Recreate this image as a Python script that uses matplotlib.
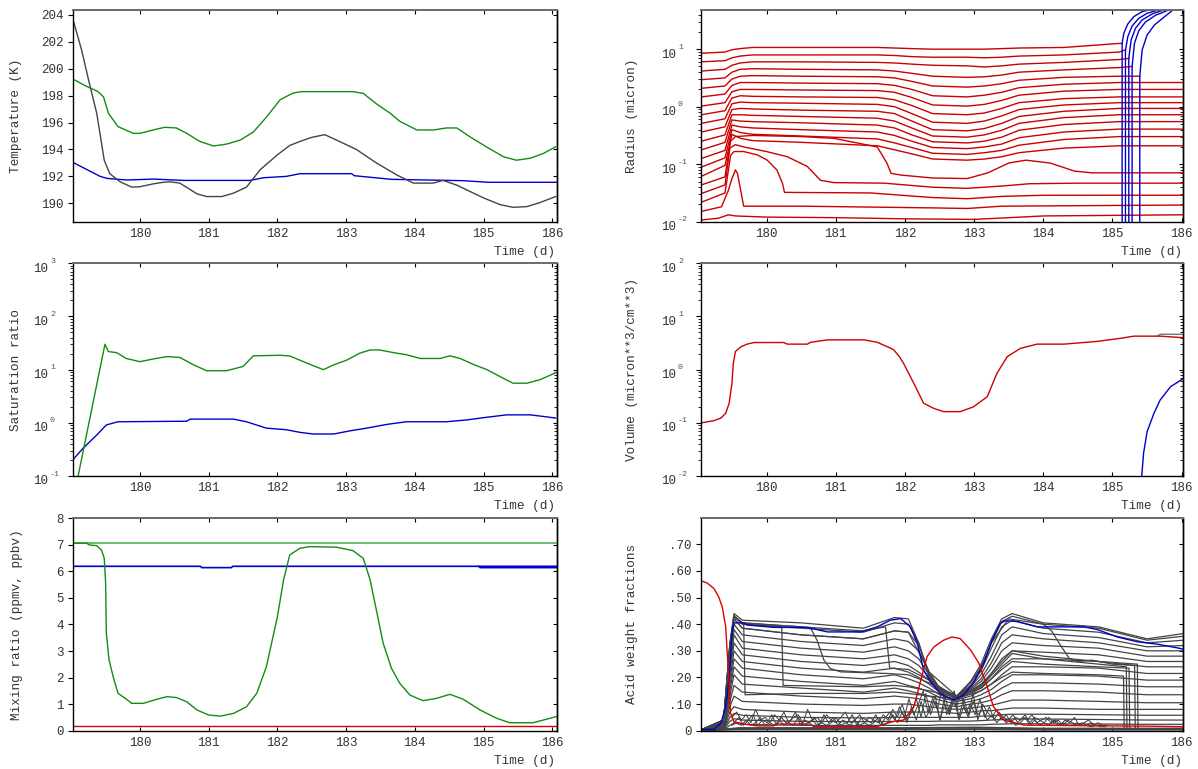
import numpy as np
import matplotlib
matplotlib.use("Agg")
import matplotlib.pyplot as plt
from matplotlib.transforms import ScaledTranslation
from matplotlib.ticker import FixedLocator, NullFormatter

plt.rcParams["font.family"] = ["Liberation Mono", "DejaVu Sans Mono"]
plt.rcParams["font.size"] = 9

TEXT = "#333333"
RED = "#cc0000"
GREEN = "#138c13"
LIGHT_GREEN = "#6cbc6c"
BLUE = "#0000cc"
GRAY = "#444444"
LW = 1.0

DAYS = [180, 181, 182, 183, 184, 185, 186]

# ---------------- Temperature (K) ----------------
temp_gray_t = [179.02, 179.04, 179.15, 179.25, 179.37, 179.48, 179.56, 179.71, 179.88, 180.0,
               180.2, 180.34, 180.43, 180.58, 180.83, 180.97, 181.19, 181.36, 181.55, 181.75,
               182.0, 182.18, 182.33, 182.5, 182.69, 182.86, 183.15, 183.44, 183.74, 183.98,
               184.27, 184.41, 184.61, 185.0, 185.24, 185.43, 185.63, 185.82, 186.05]
temp_gray = [203.6, 203.4, 201.4, 199.2, 196.7, 193.2, 192.2, 191.6, 191.2, 191.23,
             191.45, 191.56, 191.6, 191.5, 190.7, 190.5, 190.5, 190.75, 191.2, 192.5,
             193.6, 194.3, 194.6, 194.9, 195.1, 194.7, 194.0, 193.0, 192.1, 191.5,
             191.5, 191.7, 191.35, 190.4, 189.9, 189.7, 189.75, 190.05, 190.5]
temp_green_t = [179.02, 179.22, 179.39, 179.47, 179.54, 179.68, 179.9, 180.0, 180.19, 180.36,
                180.53, 180.68, 180.87, 181.07, 181.26, 181.46, 181.65, 181.84, 182.04, 182.23,
                182.35, 183.1, 183.25, 183.44, 183.64, 183.78, 184.03, 184.27, 184.46, 184.61,
                184.8, 185.04, 185.29, 185.48, 185.68, 185.87, 186.05]
temp_green = [199.24, 198.7, 198.3, 197.9, 196.7, 195.7, 195.2, 195.2, 195.45, 195.65,
              195.6, 195.2, 194.6, 194.26, 194.4, 194.7, 195.3, 196.4, 197.7, 198.2,
              198.3, 198.3, 198.17, 197.4, 196.7, 196.1, 195.45, 195.45, 195.6, 195.6,
              194.95, 194.2, 193.46, 193.2, 193.35, 193.7, 194.2]
temp_blue_t = [179.02, 179.42, 179.52, 179.81, 180.2, 180.63, 181.6, 181.8, 182.13, 182.33,
               183.08, 183.12, 183.42, 183.66, 184.7, 185.07, 186.06]
temp_blue = [193.05, 192.0, 191.85, 191.73, 191.8, 191.7, 191.7, 191.9, 192.0, 192.2,
             192.2, 192.05, 191.9, 191.78, 191.68, 191.56, 191.56]
TEMP_TICKS = [190, 192, 194, 196, 198, 200, 202, 204]

# ---------------- Saturation ratio (log10) ----------------
sat_green_t = [179.06, 179.49, 179.54, 179.66, 179.8, 180.0, 180.19, 180.39, 180.58, 180.78,
               180.97, 181.26, 181.5, 181.65, 182.04, 182.18, 182.38, 182.53, 182.67, 182.82,
               183.01, 183.2, 183.35, 183.49, 183.69, 183.88, 184.08, 184.37, 184.51, 184.66,
               184.85, 185.05, 185.24, 185.43, 185.63, 185.82, 186.05]
sat_green_log = [-1.25, 1.477, 1.34, 1.32, 1.21, 1.15, 1.2, 1.245, 1.23, 1.09,
                 0.98, 0.98, 1.06, 1.26, 1.27, 1.257, 1.15, 1.07, 1.0, 1.09,
                 1.18, 1.31, 1.37, 1.37, 1.32, 1.28, 1.21, 1.21, 1.26, 1.21,
                 1.1, 1.0, 0.87, 0.745, 0.745, 0.81, 0.94]
sat_blue_t = [179.02, 179.17, 179.37, 179.51, 179.68, 180.68, 180.73, 181.36, 181.55, 181.84,
              182.13, 182.33, 182.52, 182.82, 183.06, 183.3, 183.59, 183.88, 184.46, 184.76,
              185.05, 185.34, 185.68, 185.87, 186.05]
sat_blue_log = [-0.7, -0.48, -0.23, -0.04, 0.02, 0.03, 0.07, 0.07, 0.02, -0.1,
                -0.13, -0.18, -0.21, -0.21, -0.15, -0.10, -0.03, 0.02, 0.02, 0.055,
                0.105, 0.15, 0.15, 0.12, 0.09]

# ---------------- Mixing ratio (ppmv, ppbv) ----------------
mix_green_t = [179.02, 179.22, 179.27, 179.37, 179.44, 179.48, 179.5, 179.51, 179.55, 179.61,
               179.68, 179.8, 179.88, 180.05, 180.24, 180.39, 180.53, 180.68, 180.83, 181.0,
               181.17, 181.36, 181.55, 181.7, 181.84, 182.0, 182.09, 182.18, 182.33, 182.47,
               182.86, 183.1, 183.25, 183.35, 183.44, 183.54, 183.66, 183.78, 183.93, 184.12,
               184.32, 184.51, 184.7, 184.95, 185.19, 185.38, 185.72, 185.87, 186.06]
mix_green = [7.06, 7.06, 6.99, 6.97, 6.8, 6.49, 5.55, 3.67, 2.66, 2.03,
             1.41, 1.19, 1.03, 1.03, 1.18, 1.28, 1.25, 1.09, 0.78, 0.59,
             0.55, 0.65, 0.9, 1.41, 2.41, 4.29, 5.68, 6.62, 6.87, 6.93,
             6.91, 6.78, 6.49, 5.68, 4.55, 3.29, 2.35, 1.79, 1.34, 1.13,
             1.22, 1.37, 1.19, 0.78, 0.47, 0.3, 0.3, 0.4, 0.53]
mix_total_t = [179.02, 186.06]
mix_total = [7.06, 7.06]
mix_blue_t = [179.02, 180.88, 180.9, 181.33, 181.35, 186.06]
mix_blue = [6.19, 6.19, 6.14, 6.14, 6.19, 6.19]
mix_blue2_t = [184.93, 184.95, 186.06]
mix_blue2 = [6.19, 6.14, 6.14]
mix_red_t = [179.02, 186.06]
mix_red = [0.18, 0.18]
MIX_TICKS = [0, 1, 2, 3, 4, 5, 6, 7, 8]

# ---------------- Radius (micron, log10) ----------------
RAD_T = [179.06, 179.40, 179.50, 179.62, 179.80, 180.50, 181.60, 181.85, 182.10,
         182.40, 182.90, 183.15, 183.40, 183.65, 184.30, 185.10, 186.03]
rad_bins = [
    [0.93, 0.95, 0.99, 1.01, 1.03, 1.03, 1.03, 1.02, 1.01, 1.00, 1.00, 1.00, 1.01, 1.02, 1.03, 1.10],
    [0.78, 0.80, 0.85, 0.88, 0.90, 0.90, 0.90, 0.89, 0.87, 0.86, 0.86, 0.85, 0.86, 0.88, 0.90, 0.95],
    [0.62, 0.65, 0.72, 0.76, 0.78, 0.78, 0.77, 0.76, 0.74, 0.72, 0.71, 0.69, 0.71, 0.74, 0.77, 0.82],
    [0.47, 0.50, 0.60, 0.65, 0.66, 0.65, 0.64, 0.62, 0.58, 0.53, 0.51, 0.52, 0.55, 0.60, 0.64, 0.68],
    [0.32, 0.36, 0.48, 0.53, 0.54, 0.53, 0.52, 0.50, 0.44, 0.36, 0.34, 0.36, 0.40, 0.46, 0.51, 0.53],
    [0.17, 0.22, 0.37, 0.42, 0.42, 0.41, 0.40, 0.37, 0.30, 0.19, 0.17, 0.20, 0.25, 0.33, 0.39, 0.42, 0.42],
    [0.01, 0.07, 0.26, 0.30, 0.30, 0.29, 0.28, 0.25, 0.16, 0.03, 0.01, 0.04, 0.11, 0.20, 0.27, 0.30, 0.30],
    [-0.14, -0.07, 0.15, 0.19, 0.18, 0.17, 0.16, 0.12, 0.02, -0.12, -0.14, -0.11, -0.03, 0.07, 0.14, 0.17, 0.17],
    [-0.29, -0.21, 0.05, 0.08, 0.07, 0.06, 0.04, 0.00, -0.12, -0.27, -0.29, -0.25, -0.16, -0.05, 0.03, 0.07, 0.07],
    [-0.44, -0.35, -0.05, -0.03, -0.04, -0.06, -0.08, -0.12, -0.25, -0.40, -0.42, -0.38, -0.29, -0.17, -0.08, -0.03, -0.03],
    [-0.60, -0.49, -0.14, -0.14, -0.15, -0.17, -0.20, -0.25, -0.37, -0.51, -0.53, -0.49, -0.41, -0.29, -0.19, -0.14, -0.14],
    [-0.75, -0.62, -0.23, -0.25, -0.26, -0.28, -0.32, -0.37, -0.49, -0.61, -0.63, -0.60, -0.53, -0.41, -0.31, -0.26, -0.26],
    [-0.90, -0.76, -0.32, -0.35, -0.37, -0.40, -0.44, -0.50, -0.60, -0.71, -0.73, -0.70, -0.65, -0.54, -0.44, -0.39, -0.39],
    [-1.05, -0.89, -0.40, -0.45, -0.48, -0.51, -0.56, -0.63, -0.71, -0.81, -0.83, -0.80, -0.76, -0.67, -0.57, -0.52, -0.52],
    [-1.21, -1.02, -0.48, -0.55, -0.59, -0.62, -0.68, -0.75, -0.82, -0.91, -0.93, -0.91, -0.87, -0.80, -0.72, -0.68, -0.68],
]
# largest bins stop where they freeze
rad_freeze_t = [185.14, 185.188, 185.236, 185.284, 185.395]
rad_freeze_log = [1.10, 0.99, 0.84, 0.70, 0.53]
# bins that shrink back after the first growth
rad_c_t = [179.06, 179.40, 179.48, 179.55, 179.8, 180.5, 180.97, 181.6, 181.74, 181.80,
           181.95, 182.4, 182.9, 183.2, 183.5, 183.75, 184.1, 184.45, 184.7, 186.03]
rad_c = [-1.36, -1.22, -0.60, -0.52, -0.50, -0.52, -0.55, -0.70, -0.98, -1.16,
         -1.19, -1.24, -1.25, -1.15, -0.98, -0.93, -0.98, -1.12, -1.15, -1.15]
rad_b_t = [179.06, 179.40, 179.47, 179.55, 179.67, 180.0, 180.3, 180.59, 180.78, 180.97,
           181.7, 182.4, 182.9, 183.4, 183.8, 184.5, 186.03]
rad_b = [-1.51, -1.36, -0.72, -0.66, -0.70, -0.78, -0.87, -1.04, -1.28, -1.32,
         -1.33, -1.40, -1.42, -1.38, -1.34, -1.33, -1.33]
rad_a_t = [179.06, 179.40, 179.48, 179.53, 179.67, 179.87, 180.01, 180.15, 180.23, 180.26,
           181.5, 182.4, 182.9, 183.4, 184.0, 186.03]
rad_a = [-1.66, -1.50, -0.85, -0.78, -0.78, -0.84, -0.93, -1.10, -1.33, -1.49,
         -1.50, -1.58, -1.60, -1.56, -1.54, -1.54]
rad_d_t = [179.06, 179.35, 179.45, 179.50, 179.55, 179.58, 179.67, 180.5, 182.4, 182.9, 183.4, 186.03]
rad_d = [-1.82, -1.74, -1.45, -1.25, -1.10, -1.16, -1.73, -1.73, -1.76, -1.77, -1.73, -1.71]
rad_e_t = [179.06, 179.3, 179.45, 179.55, 180.0, 181.0, 182.0, 183.0, 184.0, 186.03]
rad_e = [-1.97, -1.94, -1.88, -1.90, -1.92, -1.93, -1.95, -1.96, -1.90, -1.88]
# ice particles
ice_t = [
    [185.14, 185.164, 185.222, 185.309, 185.429, 185.597],
    [185.188, 185.222, 185.284, 185.381, 185.501, 185.694],
    [185.236, 185.27, 185.333, 185.429, 185.573, 185.766],
    [185.284, 185.318, 185.381, 185.477, 185.622, 185.814],
    [185.395, 185.429, 185.501, 185.607, 185.742, 185.862],
]
ice_log = [
    [1.102, 1.276, 1.438, 1.566, 1.653, 1.699],
    [0.986, 1.218, 1.403, 1.537, 1.624, 1.693],
    [0.841, 1.160, 1.363, 1.508, 1.612, 1.693],
    [0.696, 1.102, 1.322, 1.473, 1.589, 1.682],
    [0.534, 0.986, 1.247, 1.421, 1.554, 1.670],
]

# ---------------- Volume (micron**3/cm**3, log10) ----------------
vol_red_t = [179.06, 179.24, 179.34, 179.41, 179.46, 179.5, 179.52, 179.55, 179.63, 179.72,
             179.82, 180.25, 180.3, 180.59, 180.64, 180.88, 181.41, 181.6, 181.8, 181.84,
             181.92, 181.98, 182.13, 182.27, 182.42, 182.56, 182.8, 182.99, 183.19, 183.33,
             183.48, 183.67, 183.91, 184.3, 184.77, 185.12, 185.31, 185.69, 186.03]
vol_red_log = [-1.0, -0.96, -0.91, -0.82, -0.63, -0.26, 0.12, 0.34, 0.43, 0.48,
               0.51, 0.51, 0.48, 0.48, 0.515, 0.56, 0.56, 0.515, 0.40, 0.37,
               0.245, 0.12, -0.26, -0.63, -0.73, -0.79, -0.79, -0.70, -0.51, -0.07,
               0.245, 0.40, 0.48, 0.48, 0.53, 0.59, 0.63, 0.63, 0.60]
vol_gray_t = [185.65, 185.69, 186.03]
vol_gray_log = [0.63, 0.665, 0.665]
vol_blue_t = [185.42, 185.45, 185.5, 185.6, 185.69, 185.84, 186.01]
vol_blue_log = [-2.05, -1.57, -1.17, -0.82, -0.57, -0.32, -0.18]

# ---------------- Acid weight fractions ----------------
acid_red_t = [179.06, 179.14, 179.24, 179.31, 179.36, 179.41, 179.43, 179.46, 179.48, 179.53,
              179.67, 179.87, 180.1, 180.15, 180.64, 180.68, 181.6, 181.7, 181.84, 181.98,
              182.13, 182.23, 182.32, 182.42, 182.56, 182.68, 182.8, 182.95, 183.07, 183.19,
              183.28, 183.43, 183.72, 184.49, 185.5, 186.03]
acid_red = [0.5625, 0.555, 0.534, 0.502, 0.465, 0.39, 0.30, 0.178, 0.065, 0.034,
            0.025, 0.018, 0.018, 0.025, 0.025, 0.015, 0.015, 0.025, 0.035, 0.04,
            0.09, 0.19, 0.278, 0.315, 0.34, 0.352, 0.346, 0.303, 0.253, 0.165,
            0.09, 0.04, 0.021, 0.019, 0.017, 0.015]
acid_blue_t = [179.06, 179.24, 179.34, 179.41, 179.46, 179.5, 179.53, 179.67, 179.72, 180.11,
               180.59, 180.88, 181.36, 181.6, 181.79, 181.94, 182.08, 182.18, 182.27, 182.37,
               182.51, 182.7, 182.85, 183.0, 183.14, 183.26, 183.38, 183.45, 183.62, 183.91,
               184.3, 184.59, 184.78, 185.07, 185.36, 185.65, 185.98, 186.03]
acid_blue = [0.005, 0.005, 0.028, 0.09, 0.2, 0.365, 0.405, 0.405, 0.397, 0.388,
             0.388, 0.371, 0.371, 0.39, 0.415, 0.421, 0.39, 0.328, 0.228, 0.184,
             0.14, 0.115, 0.134, 0.184, 0.253, 0.34, 0.403, 0.413, 0.41, 0.39,
             0.39, 0.39, 0.38, 0.352, 0.334, 0.325, 0.309, 0.305]
ACID_T = [179.06, 179.38, 179.47, 179.53, 179.65, 180.5, 181.4, 181.85, 182.05, 182.2, 182.35,
          182.5, 182.75, 182.95, 183.1, 183.25, 183.4, 183.55, 184.0, 184.8, 185.5, 186.03]
acid_bins = [
    [0.004, 0.040, 0.33, 0.44, 0.415, 0.405, 0.385, 0.425, 0.42, 0.33, 0.20, 0.155, 0.13, 0.185, 0.25, 0.345, 0.42, 0.44, 0.405, 0.39, 0.345, 0.365],
    [0.004, 0.037, 0.31, 0.43, 0.40, 0.385, 0.37, 0.405, 0.40, 0.33, 0.21, 0.155, 0.13, 0.18, 0.24, 0.33, 0.41, 0.43, 0.40, 0.385, 0.34, 0.355],
    [0.004, 0.034, 0.29, 0.42, 0.385, 0.36, 0.345, 0.375, 0.37, 0.32, 0.22, 0.16, 0.13, 0.17, 0.225, 0.31, 0.39, 0.415, 0.385, 0.37, 0.33, 0.34],
    [0.004, 0.031, 0.27, 0.40, 0.36, 0.335, 0.32, 0.345, 0.335, 0.30, 0.22, 0.16, 0.13, 0.165, 0.21, 0.28, 0.36, 0.39, 0.365, 0.35, 0.315, 0.32],
    [0.004, 0.028, 0.25, 0.38, 0.335, 0.31, 0.295, 0.315, 0.30, 0.27, 0.21, 0.16, 0.13, 0.16, 0.195, 0.255, 0.33, 0.36, 0.345, 0.33, 0.30, 0.30],
    [0.004, 0.025, 0.23, 0.36, 0.31, 0.285, 0.27, 0.285, 0.27, 0.245, 0.20, 0.155, 0.13, 0.155, 0.185, 0.235, 0.30, 0.33, 0.32, 0.31, 0.28, 0.28],
    [0.004, 0.022, 0.21, 0.33, 0.285, 0.26, 0.245, 0.26, 0.245, 0.22, 0.19, 0.15, 0.125, 0.15, 0.175, 0.215, 0.27, 0.30, 0.295, 0.285, 0.26, 0.26],
    [0.004, 0.019, 0.19, 0.30, 0.26, 0.235, 0.22, 0.235, 0.22, 0.20, 0.175, 0.145, 0.12, 0.14, 0.16, 0.195, 0.24, 0.27, 0.27, 0.26, 0.24, 0.24],
    [0.004, 0.016, 0.17, 0.27, 0.235, 0.21, 0.195, 0.21, 0.195, 0.18, 0.16, 0.135, 0.115, 0.13, 0.15, 0.175, 0.21, 0.24, 0.24, 0.235, 0.215, 0.215],
    [0.004, 0.013, 0.15, 0.24, 0.205, 0.185, 0.17, 0.185, 0.17, 0.16, 0.145, 0.125, 0.11, 0.12, 0.135, 0.155, 0.185, 0.21, 0.21, 0.205, 0.19, 0.19],
    [0.004, 0.011, 0.13, 0.21, 0.175, 0.16, 0.145, 0.16, 0.15, 0.14, 0.13, 0.115, 0.10, 0.11, 0.12, 0.135, 0.16, 0.18, 0.18, 0.175, 0.165, 0.165],
    [0.004, 0.009, 0.11, 0.17, 0.145, 0.13, 0.12, 0.13, 0.125, 0.12, 0.11, 0.10, 0.09, 0.10, 0.105, 0.115, 0.135, 0.15, 0.15, 0.145, 0.135, 0.135],
    [0.004, 0.007, 0.09, 0.13, 0.11, 0.10, 0.095, 0.10, 0.10, 0.095, 0.09, 0.085, 0.08, 0.085, 0.09, 0.095, 0.105, 0.115, 0.115, 0.11, 0.105, 0.105],
    [0.004, 0.005, 0.07, 0.09, 0.08, 0.07, 0.065, 0.07, 0.07, 0.07, 0.07, 0.07, 0.065, 0.07, 0.075, 0.075, 0.08, 0.085, 0.085, 0.08, 0.08, 0.08],
    [0.004, 0.005, 0.05, 0.065, 0.058, 0.05, 0.048, 0.05, 0.05, 0.05, 0.05, 0.05, 0.05, 0.05, 0.055, 0.055, 0.06, 0.062, 0.062, 0.06, 0.058, 0.058],
    [0.004, 0.005, 0.035, 0.045, 0.04, 0.035, 0.034, 0.035, 0.035, 0.035, 0.035, 0.036, 0.036, 0.036, 0.038, 0.04, 0.042, 0.044, 0.044, 0.042, 0.04, 0.04],
    [0.004, 0.004, 0.02, 0.028, 0.024, 0.02, 0.02, 0.02, 0.02, 0.02, 0.02, 0.022, 0.022, 0.022, 0.022, 0.024, 0.025, 0.026, 0.026, 0.025, 0.024, 0.024],
]
# bins whose acid fraction falls abruptly
acid_drop1_t = [179.06, 179.38, 179.47, 179.53, 179.67, 179.69, 180.5, 181.4, 181.85, 182.05,
                182.35, 182.75, 183.1, 183.4, 183.55, 184.0, 184.8, 185.16, 185.17, 186.03]
acid_drop1 = [0.004, 0.04, 0.32, 0.43, 0.40, 0.135, 0.14, 0.14, 0.145, 0.14,
              0.13, 0.12, 0.15, 0.20, 0.22, 0.215, 0.21, 0.205, 0.006, 0.006]
acid_drop2_t = [179.06, 179.38, 179.47, 179.53, 179.65, 180.22, 180.24, 181.4, 181.85, 182.05,
                182.35, 182.75, 183.1, 183.4, 183.55, 184.0, 184.8, 185.24, 185.25, 186.03]
acid_drop2 = [0.004, 0.04, 0.32, 0.43, 0.40, 0.39, 0.17, 0.165, 0.17, 0.165,
              0.15, 0.125, 0.16, 0.23, 0.26, 0.25, 0.24, 0.235, 0.006, 0.006]
acid_drop3_t = [179.06, 179.38, 179.47, 179.53, 179.65, 180.5, 180.64, 180.73, 180.83, 180.92,
                181.07, 181.74, 182.05, 182.35, 182.75, 183.1, 183.4, 183.55, 184.0, 184.8,
                185.36, 185.37, 186.03]
acid_drop3 = [0.004, 0.04, 0.32, 0.43, 0.405, 0.39, 0.384, 0.34, 0.265, 0.234,
              0.221, 0.215, 0.21, 0.18, 0.125, 0.17, 0.26, 0.30, 0.28, 0.26,
              0.25, 0.006, 0.006]
acid_drop4_t = [179.06, 179.38, 179.47, 179.53, 179.65, 180.5, 181.4, 181.72, 181.78, 182.05,
                182.35, 182.75, 183.1, 183.4, 183.55, 184.0, 184.8, 185.2, 185.21, 186.03]
acid_drop4 = [0.004, 0.04, 0.32, 0.43, 0.405, 0.39, 0.375, 0.39, 0.235, 0.23,
              0.19, 0.125, 0.165, 0.25, 0.29, 0.27, 0.25, 0.24, 0.006, 0.006]
acid_drop5_t = [179.06, 179.38, 179.47, 179.53, 179.65, 180.5, 181.4, 181.85, 182.05, 182.35,
                182.75, 183.1, 183.25, 183.5, 184.0, 184.12, 184.25, 184.38, 184.5, 184.7,
                185.0, 185.32, 185.33, 186.03]
acid_drop5 = [0.004, 0.034, 0.29, 0.42, 0.385, 0.36, 0.345, 0.375, 0.37, 0.22,
              0.13, 0.225, 0.33, 0.42, 0.40, 0.375, 0.32, 0.27, 0.26, 0.265,
              0.25, 0.245, 0.006, 0.006]
acid_low1_t = [179.06, 179.45, 179.6, 182.0, 183.0, 184.0, 186.03]
acid_low1 = [0.004, 0.006, 0.010, 0.010, 0.012, 0.008, 0.008]
acid_low2_t = [179.06, 179.45, 179.6, 182.0, 183.0, 184.0, 186.03]
acid_low2 = [0.002, 0.004, 0.005, 0.005, 0.006, 0.004, 0.004]
# small-bin fractions fluctuate strongly
acid_noise1_span = (179.5, 184.9)
acid_noise1 = [0.05, 0.07, 0.04, 0.06, 0.03, 0.08, 0.04, 0.05, 0.03, 0.06,
               0.04, 0.07, 0.03, 0.05, 0.06, 0.03, 0.08, 0.04, 0.05, 0.03,
               0.06, 0.04, 0.03, 0.05, 0.07, 0.03, 0.04, 0.06, 0.03, 0.05,
               0.04, 0.03, 0.06, 0.04, 0.08, 0.05, 0.10, 0.04, 0.07, 0.12,
               0.05, 0.14, 0.06, 0.11, 0.04, 0.13, 0.07, 0.15, 0.05, 0.12,
               0.06, 0.14, 0.04, 0.10, 0.07, 0.05, 0.08, 0.04, 0.06, 0.03,
               0.05, 0.04, 0.06, 0.03, 0.05, 0.04, 0.03, 0.05, 0.03, 0.04,
               0.02, 0.04, 0.03, 0.02, 0.03, 0.02, 0.03, 0.02, 0.02, 0.02]
acid_noise2_span = (179.5, 184.9)
acid_noise2 = [0.02, 0.03, 0.02, 0.04, 0.02, 0.03, 0.05, 0.02, 0.03, 0.02,
               0.04, 0.02, 0.03, 0.02, 0.05, 0.02, 0.03, 0.04, 0.02, 0.03,
               0.02, 0.03, 0.05, 0.02, 0.03, 0.02, 0.04, 0.02, 0.03, 0.02,
               0.03, 0.05, 0.02, 0.03, 0.06, 0.03, 0.07, 0.03, 0.09, 0.04,
               0.11, 0.05, 0.08, 0.13, 0.04, 0.10, 0.06, 0.12, 0.04, 0.09,
               0.05, 0.11, 0.06, 0.08, 0.04, 0.06, 0.03, 0.05, 0.03, 0.04,
               0.02, 0.03, 0.05, 0.02, 0.04, 0.02, 0.03, 0.02, 0.04, 0.02,
               0.03, 0.02, 0.02, 0.03, 0.02, 0.02, 0.015, 0.02, 0.015, 0.015]
acid_noise3_span = (179.53, 184.93)
acid_noise3 = [0.03, 0.05, 0.02, 0.04, 0.06, 0.02, 0.04, 0.03, 0.06, 0.02,
               0.05, 0.03, 0.04, 0.07, 0.02, 0.04, 0.03, 0.05, 0.02, 0.06,
               0.03, 0.05, 0.02, 0.04, 0.03, 0.06, 0.02, 0.05, 0.04, 0.03,
               0.06, 0.02, 0.05, 0.07, 0.04, 0.09, 0.05, 0.12, 0.06, 0.10,
               0.15, 0.07, 0.12, 0.08, 0.16, 0.06, 0.11, 0.09, 0.14, 0.07,
               0.10, 0.06, 0.12, 0.05, 0.09, 0.04, 0.07, 0.05, 0.04, 0.06,
               0.03, 0.05, 0.04, 0.06, 0.03, 0.04, 0.05, 0.03, 0.04, 0.02,
               0.04, 0.03, 0.05, 0.02, 0.03, 0.04, 0.02, 0.03, 0.02, 0.02]
ACID_TICKS = [0, 0.1, 0.2, 0.3, 0.4, 0.5, 0.6, 0.7]
ACID_LABELS = ["0", ".10", ".20", ".30", ".40", ".50", ".60", ".70"]

# ---------------- layout ----------------
W, H = 1198, 769
fig = plt.figure(figsize=(W / 100, H / 100), dpi=100)

LEFT_COL = (73, 556.6, (179.025, 186.064))
RIGHT_COL = (701, 1183.3, (179.053, 186.024))
ROWS = [(10, 221.7), (263.3, 476.0), (517.7, 730.7)]


def make_axes(col, row):
    x0, x1, xlim = col
    y0, y1 = row
    ax = fig.add_axes([x0 / W, 1 - y1 / H, (x1 - x0) / W, (y1 - y0) / H])
    ax.set_xlim(*xlim)
    return ax


def px(dx, dy):
    return ScaledTranslation(dx / 100, dy / 100, fig.dpi_scale_trans)


def finish(ax, ylabel, label_x, yticks=None, ylabels=None, log_exps=None):
    ax.xaxis.set_major_locator(FixedLocator(DAYS))
    ax.set_xticklabels([str(d) for d in DAYS])
    ax.tick_params(axis="x", which="major", direction="in", top=True, bottom=True,
                   length=3.0, width=0.8, pad=4.5, labelsize=9, labelcolor=TEXT)
    ax.tick_params(axis="y", which="major", direction="out", left=True, right=False,
                   length=3.5, width=0.8, pad=3.0, labelsize=9, labelcolor=TEXT)
    ax.tick_params(axis="y", which="minor", direction="out", left=True, right=False,
                   length=2.0, width=0.6)
    sec = ax.secondary_yaxis("right")
    if yticks is not None:
        ax.set_yticks(yticks)
        ax.set_yticklabels(ylabels)
        sec.set_yticks(yticks)
    sec.tick_params(axis="y", which="major", direction="in", length=3.0, width=0.8,
                    labelright=False)
    sec.tick_params(axis="y", which="minor", direction="in", length=2.0, width=0.6,
                    labelright=False)
    sec.spines["right"].set_linewidth(1.0)
    for s in ("left", "bottom", "right"):
        ax.spines[s].set_color("black")
        ax.spines[s].set_linewidth(1.0)
    ax.spines["top"].set_color("#6a6a6a")
    ax.spines["top"].set_linewidth(1.4)
    if log_exps is not None:
        ax.yaxis.set_major_formatter(NullFormatter())
        ax.yaxis.set_minor_formatter(NullFormatter())
        base = ax.get_yaxis_transform()
        for e in log_exps:
            ax.text(0, 10.0 ** e, "10", transform=base + px(-25, -5.5), ha="right",
                    va="center", fontsize=9, color=TEXT, clip_on=False)
            ax.text(0, 10.0 ** e, str(e), transform=base + px(-23, 2), ha="left",
                    va="center", fontsize=6, color="#555555", clip_on=False)
    ax.text(1, 0, "Time (d)", transform=ax.transAxes + px(-1.5, -24), ha="right",
            va="top", fontsize=9.2, color=TEXT)
    pos = ax.get_position()
    fig.text(label_x / W, pos.y0 + pos.height / 2, ylabel, rotation=90, ha="center",
             va="center", fontsize=9.2, color=TEXT)


def pow10(values):
    return [10.0 ** v for v in values]


# Temperature
ax = make_axes(LEFT_COL, ROWS[0])
ax.plot(temp_blue_t, temp_blue, color=BLUE, lw=LW)
ax.plot(temp_green_t, temp_green, color=GREEN, lw=LW)
ax.plot(temp_gray_t, temp_gray, color=GRAY, lw=LW)
ax.set_ylim(188.63, 204.37)
finish(ax, "Temperature (K)", 16.5, TEMP_TICKS, [str(v) for v in TEMP_TICKS])

# Saturation ratio
ax = make_axes(LEFT_COL, ROWS[1])
ax.set_yscale("log")
ax.plot(sat_blue_t, pow10(sat_blue_log), color=BLUE, lw=LW)
ax.plot(sat_green_t, pow10(sat_green_log), color=GREEN, lw=LW)
ax.set_ylim(1e-1, 1e3)
finish(ax, "Saturation ratio", 16.5, log_exps=[-1, 0, 1, 2, 3])

# Mixing ratio
ax = make_axes(LEFT_COL, ROWS[2])
ax.plot(mix_total_t, mix_total, color=LIGHT_GREEN, lw=1.4)
ax.plot(mix_blue_t, mix_blue, color=BLUE, lw=1.2)
ax.plot(mix_blue2_t, mix_blue2, color=BLUE, lw=1.2)
ax.plot(mix_red_t, mix_red, color="#dd0000", lw=LW)
ax.plot(mix_green_t, mix_green, color=GREEN, lw=LW)
ax.set_ylim(0, 8.02)
finish(ax, "Mixing ratio (ppmv, ppbv)", 17, MIX_TICKS, [str(v) for v in MIX_TICKS])

# Radius
ax = make_axes(RIGHT_COL, ROWS[0])
ax.set_yscale("log")
for i, vals in enumerate(rad_bins):
    if i < len(rad_freeze_t):
        ts = RAD_T[:len(vals)] + [rad_freeze_t[i]]
        vs = vals + [rad_freeze_log[i]]
    else:
        ts, vs = RAD_T, vals
    ax.plot(ts, pow10(vs), color=RED, lw=LW)
for ts, vs in ((rad_c_t, rad_c), (rad_b_t, rad_b), (rad_a_t, rad_a),
               (rad_d_t, rad_d), (rad_e_t, rad_e)):
    ax.plot(ts, pow10(vs), color=RED, lw=LW)
for ts, vs in zip(ice_t, ice_log):
    ax.plot([ts[0]] + ts, pow10([-2.2] + vs), color=BLUE, lw=LW)
ax.set_ylim(1e-2, 48)
finish(ax, "Radius (micron)", 632, log_exps=[-2, -1, 0, 1])

# Volume
ax = make_axes(RIGHT_COL, ROWS[1])
ax.set_yscale("log")
ax.plot(vol_gray_t, pow10(vol_gray_log), color="#777777", lw=LW)
ax.plot(vol_red_t, pow10(vol_red_log), color=RED, lw=LW)
ax.plot(vol_blue_t, pow10(vol_blue_log), color=BLUE, lw=LW)
ax.set_ylim(1e-2, 1e2)
finish(ax, "Volume (micron**3/cm**3)", 632, log_exps=[-2, -1, 0, 1, 2])

# Acid weight fractions
ax = make_axes(RIGHT_COL, ROWS[2])
for span, vals in ((acid_noise1_span, acid_noise1), (acid_noise2_span, acid_noise2),
                   (acid_noise3_span, acid_noise3)):
    ax.plot(np.linspace(span[0], span[1], len(vals)), vals, color="#3a3a3a", lw=0.7)
for ts, vs in ((acid_low1_t, acid_low1), (acid_low2_t, acid_low2)):
    ax.plot(ts, vs, color=GRAY, lw=1.4)
for vals in acid_bins:
    ax.plot(ACID_T, vals, color=GRAY, lw=0.9)
for ts, vs in ((acid_drop1_t, acid_drop1), (acid_drop2_t, acid_drop2),
               (acid_drop3_t, acid_drop3), (acid_drop4_t, acid_drop4),
               (acid_drop5_t, acid_drop5)):
    ax.plot(ts, vs, color=GRAY, lw=0.9)
ax.plot(acid_blue_t, acid_blue, color=BLUE, lw=LW)
ax.plot(acid_red_t, acid_red, color="#dd0000", lw=LW)
ax.set_ylim(0, 0.8)
finish(ax, "Acid weight fractions", 632, ACID_TICKS, ACID_LABELS)

fig.savefig("out.png", dpi=100, facecolor="white")
